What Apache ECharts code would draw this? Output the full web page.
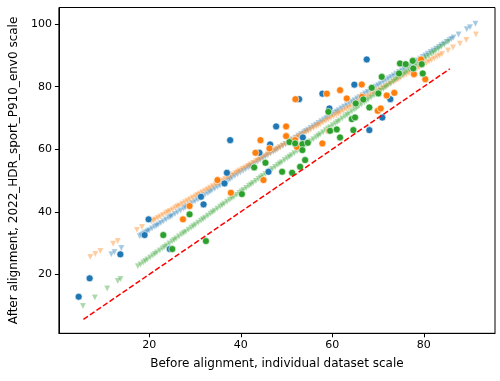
<!DOCTYPE html>
<html>
<head>
<meta charset="utf-8">
<script src="https://cdn.jsdelivr.net/npm/echarts@6/dist/echarts.min.js"></script>
<style>
html,body{margin:0;padding:0;background:#fff;}
#c{width:500px;height:381px;}
</style>
</head>
<body>
<div id="c"></div>
<script>
// ---- data ----
const xTicks = [20, 40, 60, 80];
const yTicks = [20, 40, 60, 80, 100];
const xName = 'Before alignment, individual dataset scale';
const yName = 'After alignment, 2022_HDR_sport_P910_env0 scale';

// aligned (triangle) points
const blueTri = [[11.7,26.4],[12.4,27.1],[13.9,28.4],[17.9,32.15],[18.6,32.79],[19.3,33.44],[20.0,34.09],[21.2,35.2],[22.0,35.94],[23.1,36.96],[24.3,38.07],[25.0,38.72],[26.2,39.83],[27.5,41.04],[28.3,41.78],[29.4,42.79],[30.6,43.91],[31.5,44.74],[32.8,45.94],[33.7,46.78],[34.9,47.89],[36.0,48.91],[37.2,50.02],[38.1,50.85],[39.3,51.96],[40.5,53.07],[41.6,54.09],[42.4,54.83],[43.7,56.04],[44.8,57.05],[45.9,58.07],[47.1,59.18],[48.0,60.02],[49.2,61.13],[50.4,62.24],[51.3,63.07],[52.6,64.28],[53.8,65.39],[54.7,66.22],[55.9,67.33],[57.0,68.35],[58.2,69.46],[59.3,70.48],[60.5,71.59],[61.4,72.43],[62.6,73.54],[63.8,74.65],[64.9,75.67],[66.0,76.69],[67.2,77.8],[68.3,78.82],[69.5,79.93],[70.6,80.95],[71.8,82.06],[72.9,83.08],[74.0,84.09],[75.2,85.2],[76.3,86.22],[77.5,87.34],[78.6,88.35],[79.8,89.46],[80.9,90.48],[82.1,91.59],[83.3,92.7],[84.4,93.71],[85.6,94.83],[86.5,95.67],[87.6,96.69],[89.4,98.35],[90.1,99.0],[91.3,100.1]];
const blueTriB = [[18.25,32.47],[18.95,33.12],[19.65,33.77],[20.6,34.65],[21.6,35.57],[22.55,36.45],[23.7,37.52],[24.65,38.4],[25.6,39.28],[26.85,40.43],[27.9,41.41],[28.85,42.29],[30.0,43.35],[31.05,44.32],[32.15,45.34],[33.25,46.36],[34.3,47.33],[35.45,48.4],[36.6,49.46],[37.65,50.43],[38.7,51.41],[39.9,52.52],[41.05,53.58],[42.0,54.46],[43.05,55.43],[44.25,56.55],[45.35,57.56],[46.5,58.63],[47.55,59.6],[48.6,60.57],[49.8,61.68],[50.85,62.66],[51.95,63.68],[53.2,64.83],[54.25,65.81],[55.3,66.78],[56.45,67.84],[57.6,68.91],[58.75,69.97],[59.9,71.04],[60.95,72.01],[62.0,72.98],[63.2,74.09],[64.35,75.16],[65.45,76.18],[66.6,77.24],[67.75,78.31],[68.9,79.37],[70.05,80.44],[71.2,81.5],[72.35,82.57],[73.45,83.58],[74.6,84.65],[75.75,85.71],[76.9,86.78],[78.05,87.84],[79.2,88.91],[80.35,89.97],[81.5,91.04],[82.7,92.15],[83.85,93.22],[85.0,94.28],[86.05,95.25]];
const orangeTri = [[7.1,25.58],[8.2,26.51],[9.3,27.44],[12.1,29.8],[13.1,30.64],[17.3,34.18],[18.4,35.11],[20.5,36.88],[21.3,37.56],[22.4,38.49],[23.6,39.5],[24.5,40.26],[25.7,41.27],[26.6,42.03],[27.8,43.04],[28.9,43.97],[30.1,44.98],[31.0,45.74],[32.2,46.75],[33.3,47.68],[34.5,48.69],[35.4,49.45],[36.6,50.47],[37.7,51.39],[38.9,52.4],[39.8,53.16],[41.0,54.18],[42.1,55.1],[43.3,56.12],[44.2,56.88],[45.4,57.89],[46.5,58.82],[47.7,59.83],[48.6,60.59],[49.8,61.6],[50.9,62.53],[52.1,63.54],[53.0,64.3],[54.2,65.31],[55.3,66.24],[56.5,67.25],[57.4,68.01],[58.6,69.03],[59.7,69.95],[60.9,70.97],[61.8,71.72],[63.0,72.74],[64.1,73.66],[65.3,74.68],[66.2,75.44],[67.4,76.45],[68.5,77.38],[69.7,78.39],[70.6,79.15],[71.8,80.16],[72.9,81.09],[74.1,82.1],[75.0,82.86],[76.2,83.87],[77.3,84.8],[78.5,85.81],[79.4,86.57],[80.6,87.58],[81.7,88.51],[82.9,89.52],[84.0,90.45],[85.3,91.55],[86.4,92.48],[87.9,93.74],[89.3,94.92],[91.4,96.7]];
const orangeTriB = [[20.9,37.22],[21.85,38.02],[23.0,38.99],[24.05,39.88],[25.1,40.76],[26.15,41.65],[27.2,42.54],[28.35,43.51],[29.5,44.48],[30.55,45.36],[31.6,46.25],[32.75,47.22],[33.9,48.19],[34.95,49.07],[36.0,49.96],[37.15,50.93],[38.3,51.9],[39.35,52.79],[40.4,53.67],[41.55,54.64],[42.7,55.61],[43.75,56.5],[44.8,57.38],[45.95,58.35],[47.1,59.32],[48.15,60.21],[49.2,61.1],[50.35,62.07],[51.5,63.04],[52.55,63.92],[53.6,64.81],[54.75,65.78],[55.9,66.75],[56.95,67.63],[58.0,68.52],[59.15,69.49],[60.3,70.46],[61.35,71.35],[62.4,72.23],[63.55,73.2],[64.7,74.17],[65.75,75.06],[66.8,75.94],[67.95,76.91],[69.1,77.88],[70.15,78.77],[71.2,79.65],[72.35,80.62],[73.5,81.59],[74.55,82.48],[75.6,83.37],[76.75,84.34],[77.9,85.31],[78.95,86.19],[80.0,87.08],[81.15,88.05],[82.3,89.02],[83.45,89.99]];
const greenTri = [[5.5,9.85],[8.1,12.6],[10.8,15.46],[13.1,17.89],[13.7,18.52],[17.5,22.55],[18.7,23.81],[19.6,24.77],[20.8,26.04],[21.7,26.99],[22.9,28.26],[23.8,29.21],[25.0,30.48],[25.9,31.43],[27.1,32.7],[28.0,33.65],[29.2,34.92],[30.1,35.88],[31.3,37.15],[32.2,38.1],[33.4,39.37],[34.3,40.32],[35.5,41.59],[36.4,42.54],[37.6,43.81],[38.5,44.76],[39.7,46.03],[40.6,46.98],[41.8,48.25],[42.7,49.2],[43.9,50.48],[44.8,51.43],[46.0,52.7],[46.9,53.65],[48.1,54.92],[49.0,55.87],[50.2,57.14],[51.1,58.09],[52.3,59.36],[53.2,60.32],[54.4,61.59],[55.3,62.54],[56.5,63.81],[57.4,64.76],[58.6,66.03],[59.5,66.98],[60.7,68.25],[61.6,69.2],[62.8,70.47],[63.7,71.42],[64.9,72.69],[65.8,73.65],[67.0,74.92],[67.9,75.87],[69.1,77.14],[70.0,78.09],[71.2,79.36],[72.1,80.31],[73.3,81.58],[74.2,82.53],[75.4,83.8],[76.3,84.76],[77.5,86.03],[78.4,86.98],[79.6,88.25],[80.5,89.2],[81.7,90.47],[82.6,91.42],[83.8,92.69],[85.3,94.28]];
const greenTriB = [[18.1,23.18],[19.15,24.29],[20.2,25.4],[21.25,26.51],[22.3,27.62],[23.35,28.73],[24.4,29.85],[25.45,30.96],[26.5,32.07],[27.55,33.18],[28.6,34.29],[29.65,35.4],[30.7,36.51],[31.75,37.62],[32.8,38.73],[33.85,39.84],[34.9,40.95],[35.95,42.07],[37.0,43.18],[38.05,44.29],[39.1,45.4],[40.15,46.51],[41.2,47.62],[42.25,48.73],[43.3,49.84],[44.35,50.95],[45.4,52.06],[46.45,53.17],[47.5,54.29],[48.55,55.4],[49.6,56.51],[50.65,57.62],[51.7,58.73],[52.75,59.84],[53.8,60.95],[54.85,62.06],[55.9,63.17],[56.95,64.28],[58.0,65.39],[59.05,66.5],[60.1,67.62],[61.15,68.73],[62.2,69.84],[63.25,70.95],[64.3,72.06],[65.35,73.17],[66.4,74.28],[67.45,75.39],[68.5,76.5],[69.55,77.61],[70.6,78.72],[71.65,79.84],[72.7,80.95],[73.75,82.06],[74.8,83.17],[75.85,84.28],[76.9,85.39],[77.95,86.5],[79.0,87.61],[80.05,88.72],[81.1,89.83],[82.15,90.94],[83.2,92.06],[84.5,93.43]];

// raw (circle) points
const blueDot = [[4.56,12.84],[6.96,18.72],[13.67,26.39],[18.97,32.56],[19.85,37.57],[24.48,28.08],[31.29,44.79],[31.86,42.36],[36.44,49.07],[36.97,52.46],[46.05,52.78],[37.68,62.9],[47.73,67.28],[46.42,61.53],[44.08,58.85],[52.75,76.0],[67.53,88.69],[64.83,80.64],[57.84,77.76],[59.37,73.03],[70.94,70.1],[68.1,66.1],[53.56,63.77],[72.69,76.0]];
const orangeDot = [[34.91,50.13],[28.8,41.82],[27.36,37.57],[37.84,46.07],[44.96,50.13],[51.94,76.0],[49.91,67.28],[49.91,64.19],[44.3,62.9],[46.27,60.26],[43.21,58.85],[51.88,62.9],[58.8,77.76],[66.44,80.7],[61.7,78.88],[63.16,76.23],[66.5,76.74],[57.84,61.85],[59.3,65.88],[69.93,72.27],[70.59,73.03],[71.9,77.19],[73.56,78.02],[77.86,84.0],[80.33,82.4],[79.39,88.69],[52.25,60.77]];
const greenDot = [[23.06,32.56],[28.8,39.17],[25.02,28.08],[32.38,30.64],[40.24,45.65],[42.93,54.18],[45.39,55.65],[49.04,52.78],[51.22,52.46],[52.97,54.38],[54.06,56.52],[50.63,62.27],[51.88,61.85],[53.47,61.63],[53.47,59.71],[54.65,62.05],[59.15,71.95],[59.52,65.88],[60.98,66.33],[61.7,63.77],[64.26,69.62],[64.98,70.16],[64.61,66.1],[65.13,74.63],[66.79,75.91],[68.1,73.35],[68.63,79.62],[70.07,77.83],[70.81,83.13],[74.8,87.41],[76.05,87.19],[77.58,88.24],[79.55,87.19],[74.59,84.22],[77.71,85.81],[79.77,84.22]];

const identityLine = [[5.6,5.6],[85.7,85.7]];

// ---- chart ----
const C_BLUE = '#1f77b4', C_ORANGE = '#ff7f0e', C_GREEN = '#2ca02c';
const font = 'DejaVu Sans';
function tri(data, color){
  return {type:'scatter', data, symbol:'triangle', symbolRotate:180, symbolSize:6,
    itemStyle:{color, opacity:0.4, borderColor:'#fff', borderWidth:0.4}, silent:true, z:2};
}
function dot(data, color){
  return {type:'scatter', data, symbol:'circle', symbolSize:7,
    itemStyle:{color, opacity:1, borderColor:'#fff', borderWidth:0.6}, silent:true, z:3};
}
const axisCommon = {
  type:'value', splitLine:{show:false},
  axisLine:{show:true, onZero:false, lineStyle:{color:'#000', width:1}},
  nameLocation:'middle',
  nameTextStyle:{color:'#000', fontSize:12, fontFamily:font}
};
const chart = echarts.init(document.getElementById('c'), null, {renderer:'canvas'});
chart.setOption({
  animation:false,
  backgroundColor:'#fff',
  grid:{left:58.5, right:5, top:7.5, bottom:47.7, show:true, borderColor:'#000', borderWidth:1, backgroundColor:'transparent'},
  xAxis:Object.assign({}, axisCommon, {
    min:0.24, max:95.57, name:xName, nameGap:25,
    axisTick:{show:true, inside:false, length:4, customValues:xTicks, lineStyle:{color:'#000', width:1}},
    axisLabel:{customValues:xTicks, color:'#000', fontSize:11, fontFamily:font, margin:6}
  }),
  yAxis:Object.assign({}, axisCommon, {
    min:1.15, max:105.3, name:yName, nameGap:38,
    axisTick:{show:true, inside:false, length:4, customValues:yTicks, lineStyle:{color:'#000', width:1}},
    axisLabel:{customValues:yTicks, color:'#000', fontSize:11, fontFamily:font, margin:7}
  }),
  series:[
    tri(blueTri.concat(blueTriB), C_BLUE), tri(orangeTri.concat(orangeTriB), C_ORANGE), tri(greenTri.concat(greenTriB), C_GREEN),
    dot(blueDot, C_BLUE), dot(orangeDot, C_ORANGE), dot(greenDot, C_GREEN),
    {type:'line', data:identityLine, symbol:'none', silent:true, z:4,
     lineStyle:{color:'#ff0000', width:1.5, type:[5.5,2.4]}}
  ]
});
</script>
</body>
</html>
